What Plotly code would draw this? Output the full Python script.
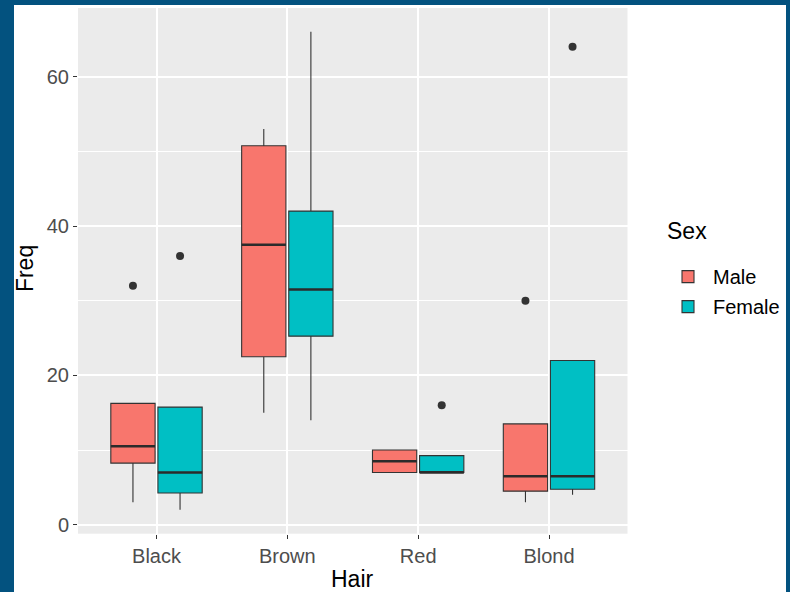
import numpy as np
import plotly.graph_objects as go

# HairEyeColor counts (Eye order: Brown, Blue, Hazel, Green)
hair_levels = ["Black", "Brown", "Red", "Blond"]
male_black = [32, 11, 10, 3]
male_brown = [53, 50, 25, 15]
male_red = [10, 10, 7, 7]
male_blond = [3, 30, 5, 8]
female_black = [36, 9, 5, 2]
female_brown = [66, 34, 29, 14]
female_red = [16, 7, 7, 7]
female_blond = [4, 64, 5, 8]

y_ticks = [0, 20, 40, 60]

W, H = 790, 594
FRAME = "#03527F"
px_x = lambda v: v / W
px_y = lambda v: 1 - v / H


def stats(groups):
    """Tukey box statistics, quantiles as in R type 7 (numpy default)."""
    out = dict(q1=[], median=[], q3=[], lowerfence=[], upperfence=[])
    for vals in groups:
        v = np.array(vals, dtype=float)
        q1, med, q3 = np.percentile(v, [25, 50, 75])
        iqr = q3 - q1
        lf = v[v >= q1 - 1.5 * iqr].min()
        uf = v[v <= q3 + 1.5 * iqr].max()
        out["q1"].append(q1); out["median"].append(med); out["q3"].append(q3)
        out["lowerfence"].append(lf); out["upperfence"].append(uf)
    return out


series = [
    ("Male", [male_black, male_brown, male_red, male_blond], "#F8766D"),
    ("Female", [female_black, female_brown, female_red, female_blond], "#00BFC4"),
]

fig = go.Figure()
for name, groups, col in series:
    s = stats(groups)
    fig.add_trace(go.Box(
        x=hair_levels, y=[list(g) for g in groups], name=name,
        q1=s["q1"], median=s["median"], q3=s["q3"],
        lowerfence=s["lowerfence"], upperfence=s["upperfence"],
        fillcolor=col, offsetgroup=name, alignmentgroup="a",
        line=dict(color="#333333", width=1.1),
        marker=dict(color="#333333", size=8, outliercolor="#333333", line=dict(width=0)),
        boxpoints="outliers", pointpos=0, jitter=0, whiskerwidth=0,
        legendgroup=name,
    ))
    # thicker median line (ggplot fatten = 2)
    fig.add_trace(go.Box(
        x=hair_levels, name=name + " median",
        q1=s["median"], median=s["median"], q3=s["median"],
        lowerfence=s["median"], upperfence=s["median"],
        fillcolor="rgba(0,0,0,0)", offsetgroup=name, alignmentgroup="a",
        line=dict(color="#2B2B2B", width=2.6), boxpoints=False, whiskerwidth=0,
        showlegend=False, hoverinfo="skip", legendgroup=name,
    ))

fig.update_layout(
    width=W, height=H,
    margin=dict(l=0, r=0, t=0, b=0),
    paper_bgcolor="white",
    plot_bgcolor="#EBEBEB",
    boxmode="group", boxgap=0.28, boxgroupgap=0.06,
    font=dict(family="Liberation Sans, Arial, sans-serif"),
    xaxis=dict(
        domain=[px_x(78), px_x(627.5)],
        type="category", categoryorder="array", categoryarray=hair_levels,
        range=[-0.6, 3.6], showgrid=True, gridcolor="white", gridwidth=1.5,
        ticks="outside", ticklen=4, tickwidth=1.2, tickcolor="#333333",
        tickfont=dict(size=20, color="#4D4D4D"), zeroline=False, showline=False,
        fixedrange=True,
    ),
    yaxis=dict(
        domain=[px_y(535.5), px_y(8)],
        range=[-1.2, 69.2], tickvals=y_ticks, ticktext=[str(v) for v in y_ticks],
        showgrid=True, gridcolor="white", gridwidth=1.5,
        minor=dict(dtick=10, tick0=0, showgrid=True, gridcolor="white", gridwidth=0.7),
        ticks="outside", ticklen=4, tickwidth=1.2, tickcolor="#333333",
        tickfont=dict(size=20, color="#4D4D4D"), zeroline=False, showline=False,
        fixedrange=True,
    ),
    legend=dict(
        x=px_x(663), y=px_y(258), xanchor="left", yanchor="top",
        font=dict(size=20, color="black"), bgcolor="rgba(0,0,0,0)",
        itemwidth=40, traceorder="grouped", tracegroupgap=1,
    ),
    annotations=[
        dict(text="Sex", x=px_x(665), y=px_y(231.5), xref="paper", yref="paper",
             xanchor="left", yanchor="middle", showarrow=False,
             font=dict(size=23, color="black")),
        dict(text="Freq", x=px_x(25), y=px_y(270), xref="paper", yref="paper",
             xanchor="center", yanchor="middle",
             showarrow=False, textangle=-90, font=dict(size=23, color="black")),
        dict(text="Hair", x=px_x(352.5), y=px_y(581), xref="paper", yref="paper",
             xanchor="center", yanchor="middle",
             showarrow=False, font=dict(size=23, color="black")),
    ],
    shapes=[
        dict(type="rect", xref="paper", yref="paper", x0=0, x1=px_x(14), y0=0, y1=1,
             fillcolor=FRAME, line=dict(width=0), layer="above"),
        dict(type="rect", xref="paper", yref="paper", x0=0, x1=1, y0=px_y(5), y1=1,
             fillcolor=FRAME, line=dict(width=0), layer="above"),
        dict(type="rect", xref="paper", yref="paper", x0=px_x(786), x1=1, y0=0, y1=1,
             fillcolor=FRAME, line=dict(width=0), layer="above"),
    ],
)

fig.write_html("out.html", config={"displayModeBar": False},
               post_script="document.body.style.margin='0px';")
